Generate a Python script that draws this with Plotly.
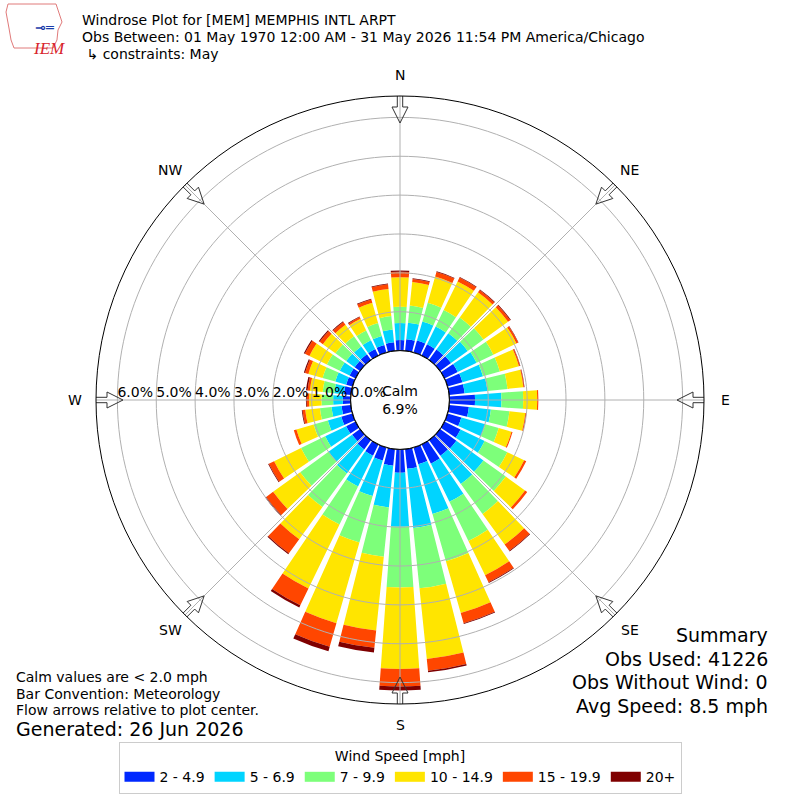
import numpy as np
import plotly.graph_objects as go

directions = list(range(0, 360, 10))
speed_bins = ["2 - 4.9", "5 - 6.9", "7 - 9.9", "10 - 14.9", "15 - 19.9", "20+"]
bin_colors = ["#0028ff", "#00d4ff", "#7dff7a", "#ffe500", "#ff4600", "#7f0000"]

# percent of observations per direction (N, 10, 20 ... 350) for each speed bin
pct_2_5 = [0.27, 0.30, 0.32, 0.32, 0.33, 0.35, 0.38, 0.40, 0.40, 0.66, 0.51, 0.37, 0.46, 0.52, 0.50, 0.55, 0.45, 0.51,
           0.60, 0.43, 0.35, 0.32, 0.30, 0.25, 0.27, 0.30, 0.24, 0.20, 0.18, 0.17, 0.17, 0.17, 0.18, 0.19, 0.20, 0.22]
pct_5_7 = [0.44, 0.43, 0.51, 0.51, 0.52, 0.53, 0.54, 0.55, 0.59, 0.68, 0.57, 0.64, 0.69, 0.86, 0.90, 1.09, 1.33, 1.53,
           1.39, 1.08, 0.95, 0.88, 0.76, 0.75, 0.60, 0.36, 0.26, 0.25, 0.25, 0.29, 0.28, 0.27, 0.25, 0.25, 0.24, 0.33]
pct_7_10 = [0.42, 0.44, 0.50, 0.47, 0.50, 0.50, 0.48, 0.45, 0.52, 0.56, 0.48, 0.36, 0.65, 0.71, 0.95, 1.12, 1.26, 1.56,
            1.56, 1.27, 1.24, 1.09, 1.07, 0.90, 0.69, 0.38, 0.30, 0.30, 0.30, 0.34, 0.37, 0.34, 0.32, 0.28, 0.35, 0.35]
pct_10_15 = [0.76, 0.61, 0.70, 0.82, 0.80, 0.78, 0.66, 0.51, 0.41, 0.36, 0.41, 0.34, 0.48, 0.61, 0.97, 0.98, 1.39, 1.83,
             2.10, 1.91, 2.16, 1.83, 1.02, 0.86, 0.77, 0.46, 0.38, 0.32, 0.33, 0.38, 0.50, 0.40, 0.37, 0.33, 0.54, 0.70]
pct_15_20 = [0.14, 0.08, 0.12, 0.11, 0.07, 0.07, 0.05, 0.03, 0.02, 0.03, 0.03, 0.03, 0.06, 0.07, 0.20, 0.20, 0.27, 0.30,
             0.45, 0.45, 0.63, 0.48, 0.45, 0.22, 0.15, 0.07, 0.07, 0.06, 0.06, 0.09, 0.13, 0.10, 0.09, 0.05, 0.09, 0.12]
pct_20p = [0.03, 0.02, 0.02, 0.02, 0.02, 0.02, 0.01, 0.01, 0.01, 0.00, 0.00, 0.00, 0.00, 0.00, 0.02, 0.02, 0.02, 0.04,
           0.10, 0.12, 0.12, 0.06, 0.03, 0.03, 0.02, 0.00, 0.02, 0.02, 0.04, 0.03, 0.03, 0.03, 0.02, 0.02, 0.02, 0.02]
series = [pct_2_5, pct_5_7, pct_7_10, pct_10_15, pct_15_20, pct_20p]

ring_vals = [0, 1, 2, 3, 4, 5, 6]
ring_labels = ["0.0%", "1.0%", "2.0%", "3.0%", "4.0%", "5.0%", "6.0%"]
compass_angles = [0, 45, 90, 135, 180, 225, 270, 315]
compass_labels = ["N", "NE", "E", "SE", "S", "SW", "W", "NW"]

calm_pct = 6.9
summary = ["Summary", "Obs Used: 41226", "Obs Without Wind: 0", "Avg Speed: 8.5 mph"]
notes = ["Calm values are < 2.0 mph", "Bar Convention: Meteorology", "Flow arrows relative to plot center."]

RMAX = 6.55
R_PX = 304      # polar radius in pixels
HOLE = 0.1625
FONT = "DejaVu Sans"


def px_to_r(px):
    return (px - HOLE * R_PX) / (R_PX * (1 - HOLE)) * RMAX


fig = go.Figure()

for name, vals, col in zip(speed_bins, series, bin_colors):
    fig.add_trace(go.Barpolar(r=vals, theta=directions, name=name, width=8.2, showlegend=False,
                              marker_color=col, marker_line_width=0, hoverinfo="skip"))

# grid drawn above the bars
ring_r, ring_t = [], []
for k in ring_vals[1:]:
    ring_r += [k] * 181 + [None]
    ring_t += list(np.linspace(0, 360, 181)) + [None]
for a in compass_angles:
    ring_r += [0, RMAX, None]
    ring_t += [a, a, None]
fig.add_trace(go.Scatterpolar(r=ring_r, theta=ring_t, mode="lines", line=dict(color="#b0b0b0", width=1),
                              showlegend=False, hoverinfo="skip", cliponaxis=False))

# hole edge
fig.add_trace(go.Scatterpolar(r=[0] * 181, theta=list(np.linspace(0, 360, 181)), mode="lines",
                              line=dict(color="black", width=1.2), showlegend=False, hoverinfo="skip",
                              cliponaxis=False))

# ring labels along W
fig.add_trace(go.Scatterpolar(r=ring_vals, theta=[270] * len(ring_vals), mode="text", text=ring_labels,
                              textposition="top right", textfont=dict(size=14, color="black", family=FONT),
                              showlegend=False, hoverinfo="skip", cliponaxis=False))

# hollow arrows pointing to center
arrow = [(307, -2.7), (307, 2.7), (293, 2.7), (293, 8), (277, 0), (293, -8), (293, -2.7), (307, -2.7)]
arr_r, arr_t = [], []
for a in compass_angles:
    for d, w in arrow:
        arr_r.append(px_to_r(np.hypot(d, w)))
        arr_t.append(a + np.degrees(np.arctan2(w, d)))
    arr_r.append(None)
    arr_t.append(None)
fig.add_trace(go.Scatterpolar(r=arr_r, theta=arr_t, mode="lines", line=dict(color="#333333", width=1),
                              showlegend=False, hoverinfo="skip", cliponaxis=False))

# legend entries as wide colour patches
for name, col in zip(speed_bins, bin_colors):
    fig.add_trace(go.Scatterpolar(r=[0], theta=[0], mode="lines", name=name,
                                  line=dict(color=col, width=10), hoverinfo="skip"))

ann = []
for a, lab in zip(compass_angles, compass_labels):
    ann.append(dict(x=0.5 + 325 * np.sin(np.radians(a)) / 800, y=0.5 + 325 * np.cos(np.radians(a)) / 800,
                    text=lab, showarrow=False, xanchor="center", yanchor="middle",
                    font=dict(size=14, family=FONT, color="black")))
title_lines = ["Windrose Plot for [MEM] MEMPHIS INTL ARPT",
               "Obs Between: 01 May 1970 12:00 AM - 31 May 2026 11:54 PM America/Chicago",
               " \u21b3 constraints: May"]
for i, t in enumerate(title_lines):
    ann.append(dict(x=80 / 800, y=1 - (20 + 17 * i) / 800, text=t, showarrow=False, xanchor="left",
                    yanchor="middle", font=dict(size=14, family=FONT, color="black")))
for i, t in enumerate(notes):
    ann.append(dict(x=14 / 800, y=1 - (677 + 16.5 * i) / 800, text=t, showarrow=False, xanchor="left",
                    yanchor="middle", font=dict(size=14, family=FONT, color="black")))
ann.append(dict(x=14 / 800, y=1 - 729 / 800, text="Generated: 26 Jun 2026", showarrow=False, xanchor="left",
                yanchor="middle", font=dict(size=19, family=FONT, color="black")))
for i, t in enumerate(summary):
    ann.append(dict(x=770 / 800, y=1 - (635 + 23.7 * i) / 800, text=t, showarrow=False, xanchor="right",
                    yanchor="middle", font=dict(size=19, family=FONT, color="black")))
ann.append(dict(x=0.5, y=0.5, text="Calm<br>%.1f%%" % calm_pct, showarrow=False,
                font=dict(size=14, family=FONT, color="black")))
ann.append(dict(x=31 / 800, y=1 - 37 / 800, text="<i>IEM</i>", showarrow=False,
                font=dict(size=17, family="Liberation Serif", color="#d8242c")))
ann.append(dict(x=33 / 800, y=1 - 18 / 800, text="<b>\u22b8\u2550</b>", showarrow=False,
                font=dict(size=13, family=FONT, color="#1a3caa")))

# logo outline
logo = [(8, 4), (56, 4), (58, 10), (62, 22), (58, 30), (57, 40), (53, 48), (14, 48), (11, 40), (9, 28), (6, 12)]
path = "M " + " L ".join("%.4f,%.4f" % (x / 800, 1 - y / 800) for x, y in logo) + " Z"
shapes = [dict(type="path", path=path, xref="paper", yref="paper", line=dict(color="#e07a7a", width=1))]

fig.update_layout(
    width=800, height=800,
    margin=dict(l=0, r=0, t=0, b=0),
    paper_bgcolor="white",
    font=dict(family=FONT, size=13, color="black"),
    polar=dict(
        domain=dict(x=[0.12, 0.88], y=[0.12, 0.88]),
        hole=HOLE,
        bgcolor="white",
        barmode="stack",
        radialaxis=dict(range=[0, RMAX], showgrid=False, showline=False, showticklabels=False, ticks=""),
        angularaxis=dict(rotation=90, direction="clockwise", showgrid=False, showticklabels=False, ticks="",
                         showline=True, linecolor="black", linewidth=1),
    ),
    legend=dict(orientation="h", x=0.5, xanchor="center", y=1 - 742 / 800, yanchor="top",
                title=dict(text="Wind Speed [mph]", side="top center", font=dict(size=14)),
                font=dict(size=14), bordercolor="#cccccc", borderwidth=1, bgcolor="white"),
    annotations=ann,
    shapes=shapes,
)

fig.write_html("out.html", config={"displayModeBar": False},
               post_script="document.body.style.margin='0';")
